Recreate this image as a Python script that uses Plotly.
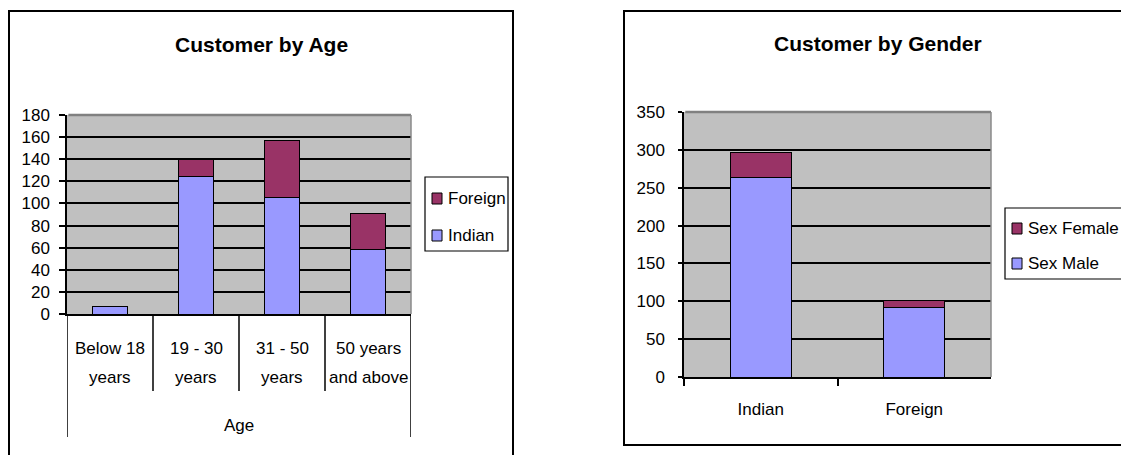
import plotly.graph_objects as go

W, H = 1121, 455

# ---- data -------------------------------------------------------------
age_lines = [("Below 18", "years"), ("19 - 30", "years"),
             ("31 - 50", "years"), ("50 years", "and above")]
age_groups = [" ".join(p) for p in age_lines]
indian_by_age = [7, 124, 105, 58]
foreign_by_age = [0, 16, 52, 33]
age_ticks = [0, 20, 40, 60, 80, 100, 120, 140, 160, 180]

nationality = ["Indian", "Foreign"]
male_by_nat = [263, 92]
female_by_nat = [34, 9]
gender_ticks = [0, 50, 100, 150, 200, 250, 300, 350]

# ---- style ------------------------------------------------------------
BLUE = "#9999FF"
PLUM = "#993366"
PLOT_BG = "#C0C0C0"
FONT = "Liberation Sans, Arial, sans-serif"


def px(x):
    return x / W


def py(y):
    return 1 - y / H


fig = go.Figure()

bar_line = dict(color="black", width=1)
fig.add_bar(x=age_groups, y=indian_by_age, name="Indian",
            marker=dict(color=BLUE, line=bar_line), xaxis="x", yaxis="y")
fig.add_bar(x=age_groups, y=foreign_by_age, name="Foreign",
            marker=dict(color=PLUM, line=bar_line), xaxis="x", yaxis="y")
fig.add_bar(x=nationality, y=male_by_nat, name="Sex Male",
            marker=dict(color=BLUE, line=bar_line), xaxis="x2", yaxis="y2")
fig.add_bar(x=nationality, y=female_by_nat, name="Sex Female",
            marker=dict(color=PLUM, line=bar_line), xaxis="x2", yaxis="y2")

tick_font = dict(family=FONT, size=17, color="black")

fig.update_layout(
    width=W, height=H,
    margin=dict(l=0, r=0, t=0, b=0, pad=0, autoexpand=False),
    paper_bgcolor="white",
    plot_bgcolor=PLOT_BG,
    barmode="stack",
    bargap=0.6,
    showlegend=False,
    font=dict(family=FONT, size=17, color="black"),
    xaxis=dict(domain=[px(67), px(411)], anchor="y", type="category",
               range=[-0.5, len(age_groups) - 0.5],
               showline=True, linecolor="black", linewidth=1.5,
               ticks="", showticklabels=False, showgrid=False,
               zeroline=False, fixedrange=True, automargin=False),
    yaxis=dict(domain=[py(314), py(115)], anchor="x", range=[0, 180],
               tickvals=age_ticks, ticks="outside", ticklen=6,
               tickcolor="black", tickwidth=1.5, tickfont=tick_font,
               ticklabelstandoff=6,
               showline=True, linecolor="black", linewidth=1.5,
               showgrid=True, gridcolor="black", gridwidth=1.5,
               zeroline=False, fixedrange=True, automargin=False),
    xaxis2=dict(domain=[px(684), px(991)], anchor="y2", type="category",
                range=[-0.5, len(nationality) - 0.5],
                showline=True, linecolor="black", linewidth=1.5,
                ticks="outside", tickson="boundaries", ticklen=7,
                tickcolor="black", tickwidth=1.5, tickfont=tick_font,
                ticklabelstandoff=16,
                showgrid=False, zeroline=False, fixedrange=True,
                automargin=False),
    yaxis2=dict(domain=[py(377), py(112)], anchor="x2", range=[0, 350],
                tickvals=gender_ticks, ticks="outside", ticklen=4,
                tickcolor="black", tickwidth=1.5, tickfont=tick_font,
                ticklabelstandoff=10,
                showline=True, linecolor="black", linewidth=1.5,
                showgrid=True, gridcolor="black", gridwidth=1.5,
                zeroline=False, fixedrange=True, automargin=False),
)

shapes = []
annotations = []

# chart frames
shapes.append(dict(type="rect", xref="paper", yref="paper",
                   x0=px(9), x1=px(513), y0=-0.05, y1=py(11),
                   line=dict(color="black", width=2), fillcolor="rgba(0,0,0,0)"))
shapes.append(dict(type="rect", xref="paper", yref="paper",
                   x0=px(624), x1=1.05, y0=py(445), y1=py(11),
                   line=dict(color="black", width=2), fillcolor="rgba(0,0,0,0)"))

# grey top/right edges of each plot area
for xr, yr in (("x", "y"), ("x2", "y2")):
    shapes.append(dict(type="line", xref=f"{xr} domain", yref=f"{yr} domain",
                       x0=0.004, x1=1, y0=1, y1=1, layer="above",
                       line=dict(color="#808080", width=2.5)))
    shapes.append(dict(type="line", xref=f"{xr} domain", yref=f"{yr} domain",
                       x0=1, x1=1, y0=0, y1=1, layer="above",
                       line=dict(color="#8a8a8a", width=1.5)))

# two-level category axis for the age chart
n_age = len(age_groups)
for i in range(n_age + 1):
    outer = i in (0, n_age)
    shapes.append(dict(type="line", xref="x", yref="paper",
                       x0=i - 0.5, x1=i - 0.5, y0=py(314),
                       y1=py(437 if outer else 391),
                       line=dict(color="black", width=1.5)))
for grp, (l1, l2) in zip(age_groups, age_lines):
    annotations.append(dict(xref="x", yref="paper", x=grp, y=py(348),
                            text=l1, showarrow=False, xanchor="center",
                            yanchor="middle", font=tick_font))
    annotations.append(dict(xref="x", yref="paper", x=grp, y=py(377),
                            text=l2, showarrow=False, xanchor="center",
                            yanchor="middle", font=tick_font))
annotations.append(dict(xref="x domain", yref="paper", x=0.5, y=py(425),
                        text="Age", showarrow=False, xanchor="center",
                        yanchor="middle", font=tick_font))

# titles
title_font = dict(family=FONT, size=21, color="black")
annotations.append(dict(xref="paper", yref="paper", x=px(261), y=py(45),
                        text="<b>Customer by Age</b>", showarrow=False,
                        xanchor="center", yanchor="middle", font=title_font))
annotations.append(dict(xref="paper", yref="paper", x=px(878), y=py(44),
                        text="<b>Customer by Gender</b>", showarrow=False,
                        xanchor="center", yanchor="middle", font=title_font))


# legends
def legend_box(x0, y0, x1, y1, entries):
    shapes.append(dict(type="rect", xref="paper", yref="paper",
                       x0=px(x0), x1=px(x1), y0=py(y1), y1=py(y0),
                       line=dict(color="black", width=1.2), fillcolor="white"))
    for name, color, sx, sy in entries:
        shapes.append(dict(type="rect", xref="paper", yref="paper",
                           x0=px(sx), x1=px(sx + 10), y0=py(sy + 6), y1=py(sy - 5),
                           line=dict(color="black", width=1), fillcolor=color))
        annotations.append(dict(xref="paper", yref="paper", x=px(sx + 14),
                                y=py(sy), text=name, showarrow=False,
                                xanchor="left", yanchor="middle",
                                font=tick_font))


legend_box(425, 177, 508, 251, [("Foreign", PLUM, 432, 198),
                                ("Indian", BLUE, 432, 235)])
legend_box(1005, 208, 1135, 279, [("Sex Female", PLUM, 1012, 228),
                                  ("Sex Male", BLUE, 1012, 263)])

fig.update_layout(shapes=shapes, annotations=annotations)

fig.write_html("out.html")
